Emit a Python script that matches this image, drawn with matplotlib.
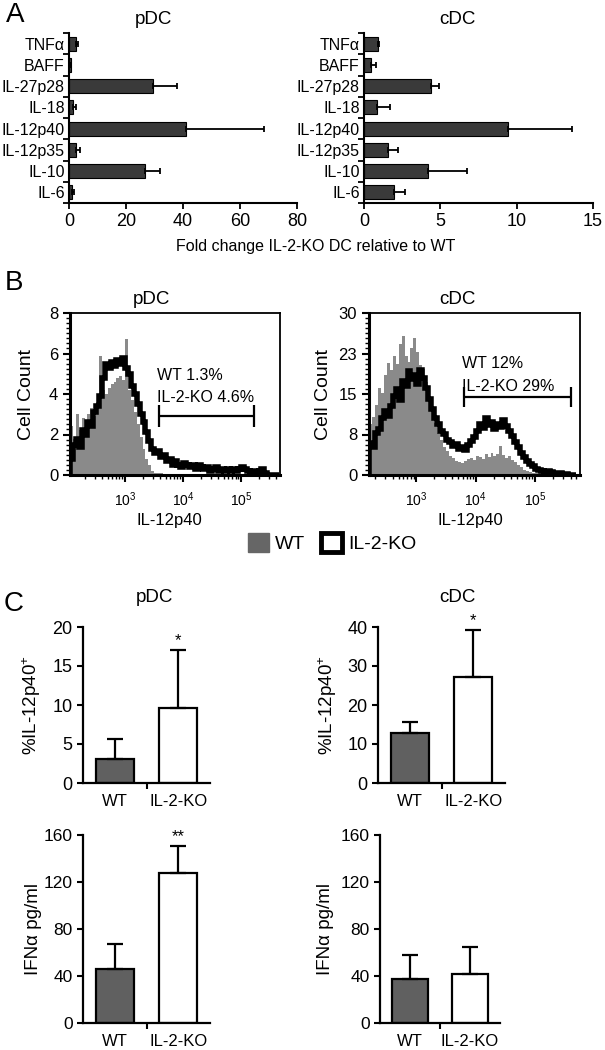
import numpy as np
import matplotlib
matplotlib.use("Agg")
import matplotlib.pyplot as plt
from matplotlib.patches import Patch
from matplotlib.ticker import AutoMinorLocator, LogLocator, NullFormatter

plt.rcParams['font.family'] = ['Liberation Sans', 'DejaVu Sans']
plt.rcParams['mathtext.fontset'] = 'custom'
plt.rcParams['mathtext.rm'] = 'Liberation Sans'
plt.rcParams['mathtext.default'] = 'regular'

# ---- panel A: fold change IL-2-KO vs WT ----
cytokines = ["TNF\u03b1", "BAFF", "IL-27p28", "IL-18", "IL-12p40", "IL-12p35", "IL-10", "IL-6"]
pdc_fold = [2.6, 0.7, 29.5, 1.4, 41.0, 2.6, 26.6, 1.2]
pdc_fold_top = [3.2, 0.7, 37.8, 2.3, 68.5, 4.0, 31.9, 1.6]
cdc_fold = [0.92, 0.45, 4.37, 0.85, 9.45, 1.6, 4.16, 1.98]
cdc_fold_top = [0.98, 0.77, 4.93, 1.7, 13.65, 2.24, 6.74, 2.69]

# ---- panel B: IL-12p40 histograms (log10 bins, step 0.05) ----
hist_step = 0.05
pdc_hist_start = 2.05
pdc_ko_counts = [0.8, 1.5, 1.8, 1.4, 2.2, 2.0, 2.6, 2.4, 3.1, 3.4,
                 3.9, 4.8, 5.5, 5.3, 5.6, 5.4, 5.7, 5.5, 5.8, 5.3,
                 5.0, 4.4, 4.0, 3.5, 3.0, 2.6, 2.1, 1.7, 1.3, 1.1,
                 1.2, 0.9, 1.0, 0.7, 0.8, 0.5, 0.7, 0.5, 0.4, 0.6,
                 0.5, 0.4, 0.5, 0.3, 0.5, 0.4, 0.3, 0.4, 0.2, 0.3,
                 0.4, 0.2, 0.3, 0.2, 0.3, 0.2, 0.3, 0.2, 0.3, 0.4,
                 0.3, 0.2, 0.1, 0.2, 0.1, 0.2, 0.3, 0.1, 0.0, 0.0,
                 0.0, 0.0]
pdc_wt_counts = [2.4, 1.8, 3.0, 2.2, 2.8, 2.5, 3.0, 3.3, 2.9, 3.6,
                 5.9, 4.2, 4.0, 4.3, 4.5, 4.6, 4.8, 4.9, 4.7, 6.7,
                 4.2, 3.7, 3.1, 2.5, 1.9, 1.3, 0.8, 0.5, 0.2, 0.1,
                 0.1, 0.1, 0.05, 0.05, 0.0]
cdc_hist_start = 2.20
cdc_ko_counts = [6.0, 5.2, 7.8, 8.5, 10.6, 11.8, 10.9, 12.8, 14.6, 16.0,
                 13.9, 17.5, 16.4, 19.2, 17.8, 18.6, 16.9, 19.5, 17.9, 16.2,
                 14.1, 12.3, 10.5, 9.4, 8.1, 7.6, 6.5, 6.2, 5.4, 5.8,
                 4.9, 5.2, 4.6, 5.5, 6.3, 7.0, 8.1, 9.4, 8.7, 10.5,
                 9.2, 9.8, 8.6, 9.5, 8.9, 10.2, 9.1, 8.2, 7.3, 6.1,
                 5.2, 4.1, 3.4, 2.6, 2.1, 1.6, 1.2, 1.0, 0.8, 0.6,
                 0.7, 0.5, 0.4, 0.3, 0.3, 0.2, 0.1, 0.0, 0.0, 0.0]
cdc_wt_counts = [9.5, 10.8, 13.0, 16.2, 15.1, 18.5, 20.8, 19.4, 22.0, 20.6,
                 24.3, 25.8, 22.1, 21.0, 23.6, 25.3, 22.8, 20.4, 19.6, 17.2,
                 14.5, 11.8, 9.6, 7.8, 6.5, 5.2, 4.4, 3.6, 3.1, 2.6,
                 2.4, 2.2, 2.6, 2.9, 3.2, 2.8, 3.5, 3.3, 3.0, 3.8,
                 3.4, 4.1, 3.6, 3.9, 5.3, 3.7, 3.2, 3.5, 2.8, 2.4,
                 1.9, 1.4, 1.0, 0.7, 0.5, 0.4, 0.3, 0.3, 0.2, 0.2,
                 0.1, 0.1, 0.1, 0.1, 0.1, 0.1, 0.0]
pdc_gate = (3800, 166000, 2.9)
cdc_gate = (6300, 410000, 14.5)
pdc_gate_text = ["WT 1.3%", "IL-2-KO 4.6%"]
cdc_gate_text = ["WT 12%", "IL-2-KO 29%"]

# ---- panel C: bar summaries ----
groups = ["WT", "IL-2-KO"]
pdc_pct = [3.1, 9.6]
pdc_pct_top = [5.6, 17.1]
cdc_pct = [12.7, 27.1]
cdc_pct_top = [15.7, 39.3]
pdc_ifn = [46.2, 128.0]
pdc_ifn_top = [66.9, 150.7]
cdc_ifn = [37.1, 41.4]
cdc_ifn_top = [57.8, 64.3]
pdc_pct_stars = ["", "*"]
cdc_pct_stars = ["", "*"]
pdc_ifn_stars = ["", "**"]
cdc_ifn_stars = ["", ""]

BAR_DARK = "#3a3a3a"
HIST_GRAY = "#8a8a8a"
WT_GRAY = "#606060"

W, H = 605, 1050
fig = plt.figure(figsize=(W / 100, H / 100), dpi=100)


def add_ax(left, top, right, bottom):
    return fig.add_axes([left / W, 1 - bottom / H, (right - left) / W, (bottom - top) / H])


def fig_text(x, y, s, **kw):
    fig.text(x / W, 1 - y / H, s, ha="center", va="center", **kw)


def fold_panel(ax, vals, tops, xmax, step):
    y = np.arange(len(cytokines))
    vals = np.array(vals)
    tops = np.array(tops)
    ax.barh(y, vals, height=0.66, color=BAR_DARK, edgecolor="black", linewidth=0.8,
            xerr=[np.zeros(len(vals)), tops - vals],
            error_kw=dict(ecolor="black", elinewidth=1.3, capsize=2.5, capthick=1.3))
    ax.set_ylim(len(y) - 0.5, -0.5)
    ax.set_xlim(0, xmax)
    ax.set_xticks(np.arange(0, xmax + 1e-9, step))
    ax.set_yticks(y)
    ax.set_yticklabels(cytokines, fontsize=11.5)
    ax.set_yticks(np.arange(len(y) + 1) - 0.5, minor=True)
    ax.tick_params(axis="y", which="major", length=0, pad=3)
    ax.tick_params(axis="y", which="minor", length=4, width=1.3, direction="out")
    ax.tick_params(axis="x", length=4, width=1.3, labelsize=13)
    for s in ["top", "right"]:
        ax.spines[s].set_visible(False)
    for s in ["left", "bottom"]:
        ax.spines[s].set_linewidth(1.5)


def hist_panel(ax, start, wt, ko, xlim_log, ymax, yticks, yticklabels, gate, gate_text, cap, txt_y):
    wt_edges = 10 ** (start + hist_step * np.arange(len(wt) + 1))
    ko_edges = 10 ** (start + hist_step * np.arange(len(ko) + 1))
    ax.stairs(wt, wt_edges, fill=True, color=HIST_GRAY, baseline=0)
    ax.stairs(ko, ko_edges, color="black", linewidth=4.0, baseline=0)
    ax.set_xscale("log")
    ax.set_xlim(10 ** xlim_log[0], 10 ** xlim_log[1])
    ax.set_ylim(0, ymax)
    ax.set_yticks(yticks)
    ax.set_yticklabels(yticklabels, fontsize=12)
    ax.yaxis.set_minor_locator(AutoMinorLocator(8))
    ax.xaxis.set_major_locator(LogLocator(base=10, numticks=10))
    ax.xaxis.set_minor_locator(LogLocator(base=10, subs=np.arange(2, 10), numticks=20))
    ax.xaxis.set_minor_formatter(NullFormatter())
    ax.tick_params(axis="x", which="major", labelsize=10, length=5, width=1.5, pad=6)
    ax.tick_params(axis="x", which="minor", length=3, width=1.0)
    ax.tick_params(axis="y", which="major", length=5, width=1.5)
    ax.tick_params(axis="y", which="minor", length=3, width=1.0)
    for s in ["top", "right"]:
        ax.spines[s].set_linewidth(1.3)
    for s in ["left", "bottom"]:
        ax.spines[s].set_linewidth(2.2)
    x0, x1, yg = gate
    ax.hlines(yg, x0, x1, color="black", linewidth=1.6)
    ax.vlines([x0, x1], yg - cap, yg + cap, color="black", linewidth=1.6)
    ax.text(x0 * 0.93, txt_y[0], gate_text[0], fontsize=11.5, va="center")
    ax.text(x0 * 0.93, txt_y[1], gate_text[1], fontsize=11.5, va="center")
    ax.set_xlabel("IL-12p40", fontsize=12)
    ax.set_ylabel("Cell Count", fontsize=14)


def group_panel(ax, vals, tops, ymax, step, stars, ylabel, label_size):
    x = np.arange(len(groups))
    vals = np.array(vals)
    tops = np.array(tops)
    ax.bar(x, vals, width=0.6, color=[WT_GRAY, "white"], edgecolor="black", linewidth=1.6,
           yerr=[np.zeros(len(vals)), tops - vals],
           error_kw=dict(ecolor="black", elinewidth=1.6, capsize=6, capthick=1.6))
    for i, s in enumerate(stars):
        if s:
            ax.annotate(s, (x[i], tops[i]), xytext=(0, 1), textcoords="offset points",
                        ha="center", va="bottom", fontsize=12)
    ax.set_xlim(-0.5, 1.5)
    ax.set_ylim(0, ymax)
    ax.set_yticks(np.arange(0, ymax + 1e-9, step))
    ax.set_xticks(x)
    ax.set_xticklabels(groups, fontsize=12)
    ax.set_xticks([0.5], minor=True)
    ax.tick_params(axis="x", which="major", length=0, pad=8)
    ax.tick_params(axis="x", which="minor", length=4, width=1.5)
    ax.tick_params(axis="y", length=4, width=1.5, labelsize=label_size)
    for s in ["top", "right"]:
        ax.spines[s].set_visible(False)
    for s in ["left", "bottom"]:
        ax.spines[s].set_linewidth(1.6)
    ax.set_ylabel(ylabel, fontsize=13.5)


# panel A
axA1 = add_ax(69, 33, 297, 203)
fold_panel(axA1, pdc_fold, pdc_fold_top, 80, 20)
axA2 = add_ax(364, 33, 593, 203)
fold_panel(axA2, cdc_fold, cdc_fold_top, 15, 5)
fig_text(153, 20, "pDC", fontsize=13.5)
fig_text(457, 20, "cDC", fontsize=13.5)
fig_text(316, 247, "Fold change IL-2-KO DC relative to WT", fontsize=11.5)

# panel B
axB1 = add_ax(70, 313, 280, 475)
hist_panel(axB1, pdc_hist_start, pdc_wt_counts, pdc_ko_counts, (2.05, 5.67), 8,
           [0, 2, 4, 6, 8], ["0", "2", "4", "6", "8"], pdc_gate, pdc_gate_text, 0.55, (4.9, 3.85))
axB2 = add_ax(369, 313, 580, 475)
hist_panel(axB2, cdc_hist_start, cdc_wt_counts, cdc_ko_counts, (2.2, 5.76), 30,
           [0, 7.5, 15, 22.5, 30], ["0", "8", "15", "23", "30"], cdc_gate, cdc_gate_text, 1.85, (20.6, 16.4))
for ax, xl, yl in [(axB1, 169, 27), (axB2, 470, 323)]:
    ax.xaxis.set_label_coords(xl / W, 1 - 520 / H, transform=fig.transFigure)
    ax.xaxis.label.set_va("center")
    ax.yaxis.set_label_coords(yl / W, 1 - 394 / H, transform=fig.transFigure)
    ax.yaxis.label.set_va("center")
fig_text(151, 300, "pDC", fontsize=13.5)
fig_text(457, 300, "cDC", fontsize=13.5)

leg_handles = [Patch(facecolor="#666666", edgecolor="#666666", linewidth=1),
               Patch(facecolor="white", edgecolor="black", linewidth=3.5)]
fig.legend(leg_handles, groups, loc="center", bbox_to_anchor=(332 / W, 1 - 543 / H),
           ncol=2, frameon=False, fontsize=14, handlelength=1.1, handleheight=1.1,
           handletextpad=0.3, columnspacing=0.8)

# panel C
axC1 = add_ax(83, 627, 210, 783)
group_panel(axC1, pdc_pct, pdc_pct_top, 20, 5, pdc_pct_stars, "%IL-12p40$^{+}$", 13)
axC2 = add_ax(378, 627, 505, 783)
group_panel(axC2, cdc_pct, cdc_pct_top, 40, 10, cdc_pct_stars, "%IL-12p40$^{+}$", 13)
axC3 = add_ax(83, 835, 210, 1023)
group_panel(axC3, pdc_ifn, pdc_ifn_top, 160, 40, pdc_ifn_stars, "IFN\u03b1 pg/ml", 12.5)
axC4 = add_ax(380, 835, 500, 1023)
group_panel(axC4, cdc_ifn, cdc_ifn_top, 160, 40, cdc_ifn_stars, "IFN\u03b1 pg/ml", 12.5)
for ax, xl, yc in [(axC1, 32, 705), (axC2, 328, 705), (axC3, 33, 929), (axC4, 325, 929)]:
    ax.yaxis.set_label_coords(xl / W, 1 - yc / H, transform=fig.transFigure)
    ax.yaxis.label.set_va("center")
fig_text(154, 598, "pDC", fontsize=13.5)
fig_text(457, 598, "cDC", fontsize=13.5)

# panel letters
fig_text(15, 15, "A", fontsize=20)
fig_text(14, 283, "B", fontsize=20)
fig_text(14, 604, "C", fontsize=20)

fig.savefig("out.png", dpi=100)
